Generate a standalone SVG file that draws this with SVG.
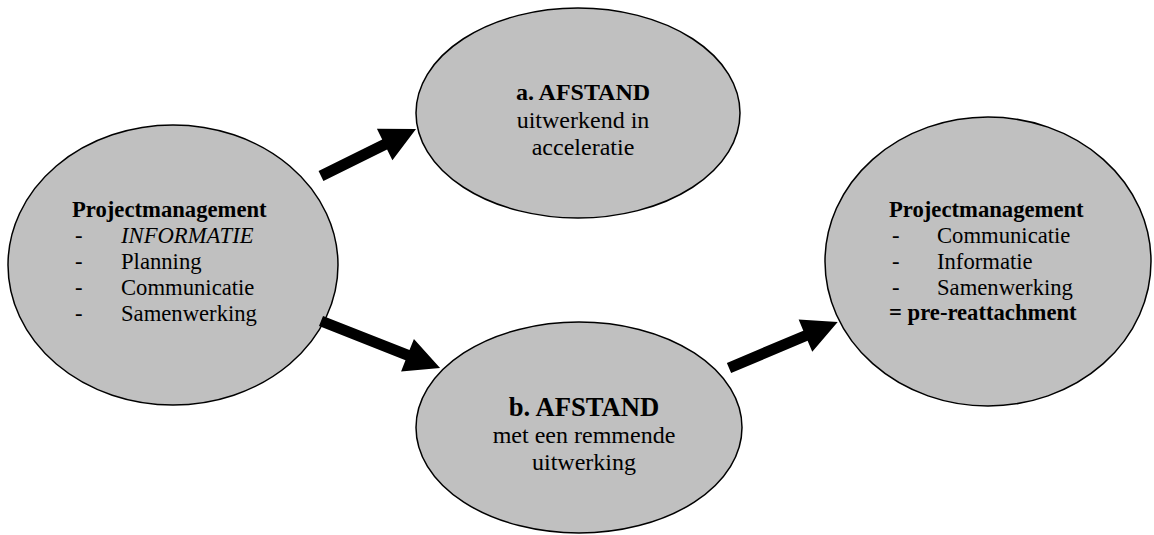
<svg xmlns="http://www.w3.org/2000/svg" width="1154" height="535" viewBox="0 0 1154 535">
<style>
.node{fill:#c0c0c0;stroke:#000;stroke-width:1.5}
text{font-family:"Liberation Serif","Times New Roman",serif;fill:#000}
.s17{font-size:22.67px}
.s18{font-size:24px}
.s20{font-size:26.67px}
.b{font-weight:bold}
.i{font-style:italic}
.arrow{fill:#000}
</style>
<rect width="1154" height="535" fill="#fff"/>
<g id="node-left">
<ellipse class="node" cx="173" cy="265" rx="165" ry="140"/>
<text class="s17 b" x="72" y="217">Projectmanagement</text>
<text class="s17" x="75" y="243">-</text><text class="s17 i" x="121" y="243">INFORMATIE</text>
<text class="s17" x="75" y="269">-</text><text class="s17" x="121" y="269">Planning</text>
<text class="s17" x="75" y="295">-</text><text class="s17" x="121" y="295">Communicatie</text>
<text class="s17" x="75" y="321">-</text><text class="s17" x="121" y="321">Samenwerking</text>
</g>
<g id="node-a">
<ellipse class="node" cx="578" cy="113" rx="162" ry="105"/>
<text class="s18 b" x="583" y="100" text-anchor="middle">a. AFSTAND</text>
<text class="s18" x="583" y="128" text-anchor="middle">uitwerkend in</text>
<text class="s18" x="583" y="155" text-anchor="middle">acceleratie</text>
</g>
<g id="node-b">
<ellipse class="node" cx="579" cy="427.5" rx="163" ry="105.5"/>
<text class="s20 b" x="584" y="416" text-anchor="middle">b. AFSTAND</text>
<text class="s18" x="584" y="443" text-anchor="middle">met een remmende</text>
<text class="s18" x="584" y="470" text-anchor="middle">uitwerking</text>
</g>
<g id="node-right">
<ellipse class="node" cx="988" cy="261.5" rx="163" ry="144.5"/>
<text class="s17 b" x="889" y="217">Projectmanagement</text>
<text class="s17" x="892" y="243">-</text><text class="s17" x="937" y="243">Communicatie</text>
<text class="s17" x="892" y="269">-</text><text class="s17" x="937" y="269">Informatie</text>
<text class="s17" x="892" y="295">-</text><text class="s17" x="937" y="295">Samenwerking</text>
<text class="s17 b" x="889" y="320">= pre-reattachment</text>
</g>
<g id="connectors">
<polygon class="arrow" transform="translate(321,176) rotate(-26.3)" points="0,-5.5 71,-5.5 71,-17.5 106,0 71,17.5 71,5.5 0,5.5"/>
<polygon class="arrow" transform="translate(321,321) rotate(21.55)" points="0,-5.5 93,-5.5 93,-17.5 128,0 93,17.5 93,5.5 0,5.5"/>
<polygon class="arrow" transform="translate(729,368) rotate(-22.9)" points="0,-5.5 83,-5.5 83,-17.5 118,0 83,17.5 83,5.5 0,5.5"/>
</g>
</svg>
